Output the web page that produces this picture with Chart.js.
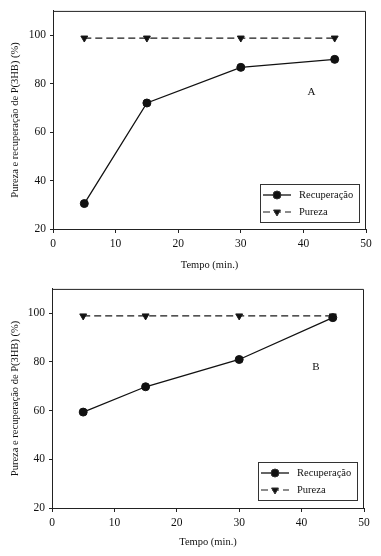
<!DOCTYPE html>
<html lang="pt">
<head>
<meta charset="UTF-8" />
<title>Pureza e recuperação de P(3HB)</title>
<script src="https://cdn.jsdelivr.net/npm/chart.js"></script>
<style>
    body { margin: 0; background: #fff; }
    canvas { display: block; }
</style>
</head>
<body>
<canvas id="chartA" width="381" height="278"></canvas>
<canvas id="chartB" width="381" height="278"></canvas>
<script>
    // dados
    const tempo = [5, 15, 30, 45];
    const recuperacaoA = [30.5, 72, 86.7, 90];
    const purezaA = [98.8, 98.8, 98.8, 98.8];
    const recuperacaoB = [59.4, 69.8, 81, 98.2];
    const purezaB = [98.9, 98.9, 98.9, 98.9];
    const xTicks = [0, 10, 20, 30, 40, 50];
    const yTicks = [20, 40, 60, 80, 100];
    const seriesNames = ['Recuperação', 'Pureza'];

    const serif = '"Liberation Serif", "Times New Roman", serif';

    // moldura + letra do painel + legenda em caixa
    const framePlugin = {
        id: 'frame',
        afterDraw(chart, args, opts) {
            const { ctx, chartArea: a, scales } = chart;
            ctx.save();
            ctx.strokeStyle = '#222';
            ctx.lineWidth = 1;
            ctx.beginPath();
            ctx.moveTo(a.left, a.top + 0.5);
            ctx.lineTo(a.right - 0.5, a.top + 0.5);
            ctx.lineTo(a.right - 0.5, a.bottom);
            ctx.stroke();

            // letra A / B
            ctx.fillStyle = '#111';
            ctx.font = '11px ' + serif;
            ctx.textAlign = 'center';
            ctx.textBaseline = 'middle';
            ctx.fillText(opts.letter, scales.x.getPixelForValue(opts.letterAt[0]),
                scales.y.getPixelForValue(opts.letterAt[1]));

            // legenda
            const w = 99, h = 38;
            const x0 = a.right - opts.legendRight - w;
            const y0 = a.bottom - opts.legendBottom - h;
            ctx.strokeStyle = '#333';
            ctx.strokeRect(x0 + 0.5, y0 + 0.5, w, h);
            chart.data.datasets.forEach((ds, i) => {
                const cy = y0 + 11 + i * 17;
                ctx.save();
                ctx.strokeStyle = ds.borderColor;
                ctx.lineWidth = ds.borderWidth;
                ctx.setLineDash(ds.borderDash || []);
                ctx.beginPath();
                ctx.moveTo(x0 + 3, cy);
                ctx.lineTo(x0 + 31, cy);
                ctx.stroke();
                ctx.restore();
                Chart.helpers.drawPoint(ctx, {
                    pointStyle: ds.pointStyle,
                    rotation: ds.pointRotation || 0,
                    radius: ds.pointRadius,
                    borderWidth: 1
                }, x0 + 17, cy);
                ctx.fillStyle = '#111';
                ctx.font = '10.5px ' + serif;
                ctx.textAlign = 'left';
                ctx.fillText(ds.label, x0 + 39, cy);
            });
            ctx.restore();
        }
    };

    function makeChart(id, recup, pureza, letter, letterAt, area) {
        return new Chart(document.getElementById(id), {
            type: 'line',
            data: {
                datasets: [{
                    label: seriesNames[0],
                    data: tempo.map((t, i) => ({ x: t, y: recup[i] })),
                    borderColor: '#111',
                    backgroundColor: '#111',
                    borderWidth: 1.3,
                    pointStyle: 'circle',
                    pointRadius: 4,
                    pointBorderWidth: 1,
                    tension: 0
                }, {
                    label: seriesNames[1],
                    data: tempo.map((t, i) => ({ x: t, y: pureza[i] })),
                    borderColor: '#1a1a1a',
                    backgroundColor: '#111',
                    borderWidth: 1.2,
                    borderDash: [7, 4],
                    pointStyle: 'triangle',
                    pointRotation: 180,
                    pointRadius: 4,
                    pointBorderWidth: 1,
                    tension: 0
                }]
            },
            options: {
                responsive: false,
                devicePixelRatio: 1,
                animation: false,
                layout: { padding: { top: area.top, right: 381 - area.right, left: 0, bottom: 0 } },
                plugins: {
                    legend: { display: false },
                    tooltip: { enabled: false },
                    frame: { letter: letter, letterAt: letterAt, legendRight: area.legRight, legendBottom: area.legBottom }
                },
                scales: {
                    x: {
                        type: 'linear',
                        min: 0,
                        max: 50,
                        afterBuildTicks: s => { s.ticks = xTicks.map(v => ({ value: v })); },
                        afterFit: s => { s.height = 278 - area.bottom; },
                        grid: { drawOnChartArea: false, drawTicks: true, tickLength: 4, color: '#222' },
                        border: { display: true, color: '#222', width: 1 },
                        ticks: { color: '#111', padding: 4, maxRotation: 0, font: { family: serif, size: 11.5 } },
                        title: {
                            display: true, text: 'Tempo (min.)', color: '#111',
                            font: { family: serif, size: 10.5 }, padding: { top: 0, bottom: area.xTitlePad }
                        }
                    },
                    y: {
                        type: 'linear',
                        min: 20,
                        max: 110,
                        afterBuildTicks: s => { s.ticks = yTicks.map(v => ({ value: v })); },
                        afterFit: s => { s.width = area.left; },
                        grid: { drawOnChartArea: false, drawTicks: true, tickLength: 3, color: '#222' },
                        border: { display: true, color: '#222', width: 1 },
                        ticks: { color: '#111', padding: 4, font: { family: serif, size: 11.5 } },
                        title: {
                            display: true, text: 'Pureza e recuperação de P(3HB) (%)', color: '#111',
                            font: { family: serif, size: 10.5 }, padding: { top: 9, bottom: 0 }
                        }
                    }
                }
            },
            plugins: [framePlugin]
        });
    }

    makeChart('chartA', recuperacaoA, purezaA, 'A', [41.3, 76.5],
        { top: 5, bottom: 229, left: 53, right: 366, legRight: 7, legBottom: 7, xTitlePad: 6 });
    makeChart('chartB', recuperacaoB, purezaB, 'B', [42.3, 78],
        { top: 6, bottom: 230, left: 52, right: 364, legRight: 7, legBottom: 8, xTitlePad: 7 });
</script>
</body>
</html>
